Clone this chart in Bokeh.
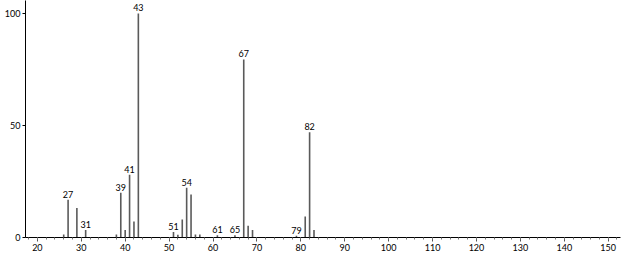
from bokeh.plotting import figure
from bokeh.models import FixedTicker, ColumnDataSource, Range1d
from bokeh.core.properties import value
from bokeh.embed import file_html
from bokeh.resources import INLINE

mz = [26, 27, 29, 31, 38, 39, 40, 41, 42, 43, 51, 52, 53, 54, 55, 56, 57, 61, 65, 67, 68, 69, 79, 81, 82, 83]
intensity = [1.3, 16.8, 13.2, 3.4, 1.3, 20.0, 3.4, 28.0, 7.1, 100.0, 2.4, 1.2, 8.0, 22.2, 19.2, 1.3, 1.3, 1.0, 1.0, 79.5, 5.2, 3.3, 0.8, 9.4, 47.0, 3.4]
labeled_mz = [27, 31, 39, 41, 43, 51, 54, 61, 65, 67, 79, 82]
x_major_ticks = list(range(20, 151, 10))
x_minor_ticks = list(range(18, 153, 2))
y_ticks = [0, 50, 100]

FONT = "Lato"

p = figure(width=623, height=254, output_backend="svg", toolbar_location=None,
           x_range=Range1d(17.3, 152.8), y_range=Range1d(0, 105.8),
           min_border_left=25, min_border_right=3, min_border_top=0, min_border_bottom=17)
p.outline_line_color = None
p.xgrid.visible = False
p.ygrid.visible = False
p.background_fill_color = "white"

src = ColumnDataSource(dict(x=mz, y0=[0] * len(mz), y1=intensity))
p.segment(x0="x", y0="y0", x1="x", y1="y1", source=src, line_color="#5a5a5a", line_width=1.6)

lab_y = [intensity[mz.index(m)] for m in labeled_mz]
lsrc = ColumnDataSource(dict(x=labeled_mz, y=lab_y, t=[str(m) for m in labeled_mz]))
p.text(x="x", y="y", text="t", source=lsrc, text_align="center", text_baseline="bottom",
       y_offset=-2, text_font=value(FONT), text_font_size="9px", text_color="black")

xa = p.xaxis[0]
xa.ticker = FixedTicker(ticks=x_major_ticks, minor_ticks=x_minor_ticks)
xa.major_tick_out = 4
xa.major_tick_in = 0
xa.minor_tick_out = 2
xa.minor_tick_in = 0
xa.major_label_text_font = FONT
xa.major_label_text_font_size = "9px"
xa.major_label_text_color = "black"
xa.major_label_standoff = 2
xa.axis_line_color = "black"
xa.major_tick_line_color = "#555555"
xa.minor_tick_line_color = "#777777"

ya = p.yaxis[0]
ya.ticker = FixedTicker(ticks=y_ticks, minor_ticks=[])
ya.major_tick_out = 3
ya.major_tick_in = 0
ya.minor_tick_line_color = None
ya.major_label_text_font = FONT
ya.major_label_text_font_size = "9px"
ya.major_label_text_color = "black"
ya.major_label_standoff = 2
ya.axis_line_color = "black"

open("out.html", "w").write(file_html(p, INLINE))
